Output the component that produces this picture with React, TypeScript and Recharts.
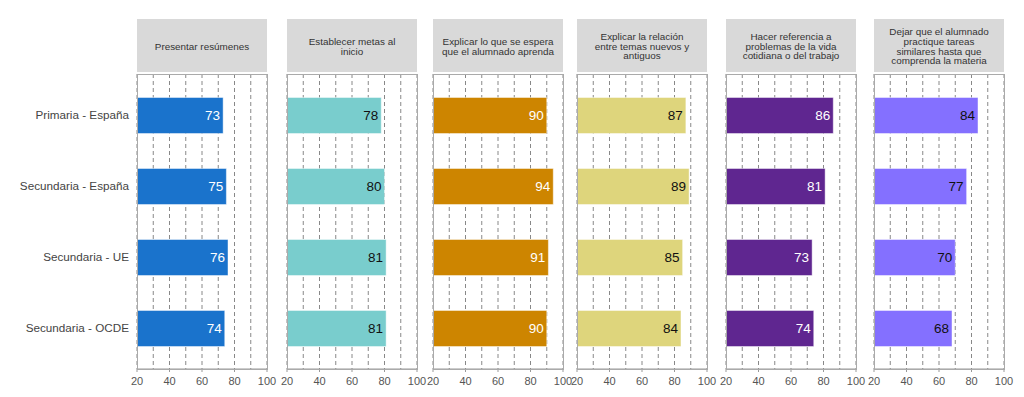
import React from "react";
import { BarChart, Bar, XAxis, YAxis, CartesianGrid, LabelList } from "recharts";

const categories = ["Primaria - España", "Secundaria - España", "Secundaria - UE", "Secundaria - OCDE"];

const panelTitles = [
  ["Presentar resúmenes"],
  ["Establecer metas al", "inicio"],
  ["Explicar lo que se espera", "que el alumnado aprenda"],
  ["Explicar la relación", "entre temas nuevos y", "antiguos"],
  ["Hacer referencia a", "problemas de la vida", "cotidiana o del trabajo"],
  ["Dejar que el alumnado", "practique tareas", "similares hasta que", "comprenda la materia"],
];

const resumenes = [73, 75, 76, 74];
const metas = [78, 80, 81, 81];
const espera = [90, 94, 91, 90];
const relacion = [87, 89, 85, 84];
const referencia = [86, 81, 73, 74];
const tareas = [84, 77, 70, 68];

const panelValues = [resumenes, metas, espera, relacion, referencia, tareas];
const panelColors = ["#1a73cc", "#79cdcd", "#cd8500", "#ded57c", "#5f2690", "#8470ff"];
const labelColors = ["#ffffff", "#111111", "#ffffff", "#111111", "#ffffff", "#111111"];

const gridTicks = [20, 30, 40, 50, 60, 70, 80, 90, 100];
const domain = [20, 100];

// layout (px)
const panelLefts = [137, 287, 433, 577, 726, 874];
const plotW = 130;
const plotTop = 74;
const plotH = 295;
const headerTop = 19;
const headerH = 53;
const axisH = 30;
const font = "'Liberation Sans', Arial, sans-serif";

function AxisTick(props: any) {
  const { x, y, payload } = props;
  if (payload.value % 20 !== 0) return null;
  return (
    <g>
      <line x1={x} x2={x} y1={y - 8} y2={y - 5} stroke="#999" />
      <text x={x} y={y} dy="0.71em" textAnchor="middle" fill="#555" fontSize={11} fontFamily={font}>
        {payload.value}
      </text>
    </g>
  );
}

function Panel({ index }: { index: number }) {
  const first = index === 0;
  const data = categories.map((c, i) => ({ name: c, value: panelValues[index][i] }));
  const left = first ? 0 : panelLefts[index] - 20;
  const width = first ? panelLefts[0] + plotW + 20 : plotW + 40;
  return (
    <>
      <div
        style={{
          position: "absolute",
          left: panelLefts[index],
          top: headerTop,
          width: plotW,
          height: headerH,
          background: "#d9d9d9",
          display: "flex",
          flexDirection: "column",
          alignItems: "center",
          justifyContent: "center",
          fontFamily: font,
          fontSize: 9.9,
          lineHeight: "9.8px",
          color: "#333",
          textAlign: "center",
          paddingTop: 2,
          boxSizing: "border-box",
          whiteSpace: "nowrap",
        }}
      >
        {panelTitles[index].map((t) => (
          <div key={t}>{t}</div>
        ))}
      </div>
      <div style={{ position: "absolute", left, top: plotTop }}>
        <BarChart
          width={width}
          height={plotH + axisH}
          data={data}
          layout="vertical"
          margin={{ top: 0, right: 20, bottom: 0, left: first ? 0 : 20 }}
        >
          <CartesianGrid horizontal={false} stroke="#888" strokeDasharray="4 3" />
          <XAxis
            type="number"
            domain={domain}
            ticks={gridTicks}
            allowDataOverflow
            interval={0}
            height={axisH}
            tickLine={false}
            axisLine={{ stroke: "#999" }}
            tick={<AxisTick />}
          />
          <YAxis
            type="category"
            dataKey="name"
            hide={!first}
            width={first ? panelLefts[0] : 0}
            padding={{ top: 5.5, bottom: 5.5 }}
            axisLine={false}
            tickLine={false}
            tick={{ fill: "#444", fontSize: 11.7, fontFamily: font }}
          />
          <Bar
            dataKey="value"
            fill={panelColors[index]}
            stroke="rgba(255,255,255,0.45)"
            barSize={36}
            isAnimationActive={false}
          >
            <LabelList
              dataKey="value"
              position="insideRight"
              offset={3}
              fill={labelColors[index]}
              fontSize={13.5}
              fontFamily={font}
            />
          </Bar>
        </BarChart>
      </div>
      <div
        style={{
          position: "absolute",
          left: panelLefts[index],
          top: plotTop,
          width: plotW + 1,
          height: plotH + 1,
          border: "1px solid #aaa",
          boxSizing: "border-box",
          pointerEvents: "none",
        }}
      />
    </>
  );
}

export default function App() {
  return (
    <div style={{ position: "absolute", left: 0, top: 0, width: 1024, height: 397, background: "#fff" }}>
      {panelValues.map((_, i) => (
        <Panel key={i} index={i} />
      ))}
    </div>
  );
}
